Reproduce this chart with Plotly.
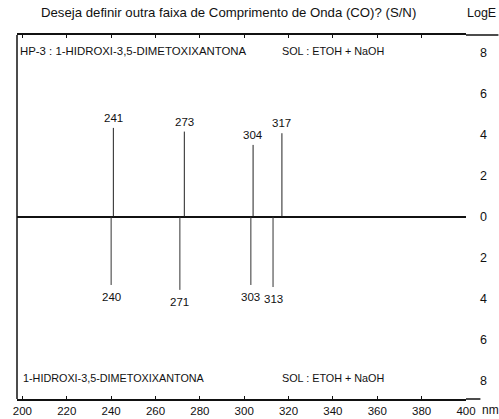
import plotly.graph_objects as go

# ---- data ----
wavelength_top = [241, 273, 304, 317]          # nm, upper spectrum (HP-3, EtOH + NaOH)
logE_top = [4.33, 4.15, 3.50, 4.07]
wavelength_bottom = [240, 271, 303, 313]       # nm, lower spectrum
logE_bottom = [3.33, 3.57, 3.33, 3.43]

x_tick_vals = [200, 220, 240, 260, 280, 300, 320, 340, 360, 380, 400]
x_tick_labels = ["200", "220", "240", "260", "280", "300", "320", "340", "360", "380", "400"]
y_tick_vals = [8, 6, 4, 2, 0, -2, -4, -6, -8]
y_tick_labels = ["8", "6", "4", "2", "0", "2", "4", "6", "8"]

title_text = "Deseja definir outra faixa de Comprimento de Onda (CO)? (S/N)"
top_label = "HP-3 : 1-HIDROXI-3,5-DIMETOXIXANTONA"
bottom_label = "1-HIDROXI-3,5-DIMETOXIXANTONA"
solvent_label = "SOL : ETOH + NaOH"

FONT = "Liberation Sans, Arial, sans-serif"
INK = "#111111"

def stems(xs, ys):
    sx, sy = [], []
    for x, y in zip(xs, ys):
        sx += [x, x, None]
        sy += [0, y, None]
    return sx, sy

fig = go.Figure()

tx, ty = stems(wavelength_top, logE_top)
fig.add_trace(go.Scatter(x=tx, y=ty, mode="lines", line=dict(color="#222222", width=1),
                         hoverinfo="skip", showlegend=False))
bx, by = stems(wavelength_bottom, [-v for v in logE_bottom])
fig.add_trace(go.Scatter(x=bx, y=by, mode="lines", line=dict(color="#333333", width=1),
                         hoverinfo="skip", showlegend=False))

W, H = 499, 419
ML, MR, MT, MB = 17, 33.4, 35, 20
PW, PH = W - ML - MR, H - MT - MB

def px(x):
    return (x - ML) / PW

def py(y):
    return (H - MB - y) / PH

peak_annotations = []
for w, v in zip(wavelength_top, logE_top):
    peak_annotations.append(dict(text=str(w), x=w, y=v, xref="x", yref="y", showarrow=False,
                                 xanchor="center", yanchor="bottom", yshift=2,
                                 font=dict(size=11.5)))
for w, v in zip(wavelength_bottom, logE_bottom):
    peak_annotations.append(dict(text=str(w), x=w, y=-v, xref="x", yref="y", showarrow=False,
                                 xanchor="center", yanchor="top", yshift=-4,
                                 font=dict(size=11.5)))

fig.update_layout(
    width=W, height=H,
    margin=dict(l=ML, r=MR, t=MT, b=MB, pad=0, autoexpand=False),
    paper_bgcolor="white", plot_bgcolor="white",
    font=dict(family=FONT, size=12, color=INK),
    xaxis=dict(range=[197.56, 400], tickmode="array", tickvals=x_tick_vals, ticktext=x_tick_labels,
               ticks="inside", ticklen=3, tickcolor=INK, showline=True, linecolor=INK, linewidth=1.5,
               mirror="ticks", showgrid=False, zeroline=False, automargin=False,
               tickfont=dict(family=FONT, size=11.5, color=INK)),
    yaxis=dict(range=[-8.89, 8.86], side="right", tickmode="array", tickvals=y_tick_vals,
               ticktext=y_tick_labels, ticks="", showline=False, showgrid=False, automargin=False,
               zeroline=True, zerolinecolor=INK, zerolinewidth=1.5, ticklabelstandoff=13,
               tickfont=dict(family=FONT, size=12.5, color=INK)),
    shapes=[
        dict(type="line", xref="paper", yref="paper", x0=0, x1=0, y0=0, y1=1,
             line=dict(color=INK, width=1.5)),
        dict(type="line", xref="paper", yref="paper", x0=1, x1=px(498), y0=1, y1=1,
             line=dict(color=INK, width=1.5)),
        dict(type="line", xref="paper", yref="paper", x0=1, x1=px(480), y0=0, y1=0,
             line=dict(color=INK, width=1.5)),
    ],
    annotations=[
        dict(text=title_text, xref="paper", yref="paper", x=px(228), y=py(13),
             showarrow=False, xanchor="center", yanchor="middle", font=dict(size=13.2)),
        dict(text="LogE", xref="paper", yref="paper", x=px(481), y=py(13),
             showarrow=False, xanchor="center", yanchor="middle", font=dict(size=12.5)),
        dict(text=top_label, xref="paper", yref="paper", x=px(18), y=py(51),
             showarrow=False, xanchor="left", yanchor="middle", font=dict(size=11.4)),
        dict(text=solvent_label, xref="paper", yref="paper", x=px(280), y=py(51),
             showarrow=False, xanchor="left", yanchor="middle", font=dict(size=10.8)),
        dict(text=bottom_label, xref="paper", yref="paper", x=px(21), y=py(378),
             showarrow=False, xanchor="left", yanchor="middle", font=dict(size=10.8)),
        dict(text=solvent_label, xref="paper", yref="paper", x=px(280), y=py(378),
             showarrow=False, xanchor="left", yanchor="middle", font=dict(size=10.8)),
        dict(text="nm", xref="paper", yref="paper", x=px(490), y=py(410),
             showarrow=False, xanchor="center", yanchor="middle", font=dict(size=12)),
    ] + peak_annotations,
)

fig.write_html("out.html", config={"displayModeBar": False},
               post_script="document.body.style.margin='0px';")
